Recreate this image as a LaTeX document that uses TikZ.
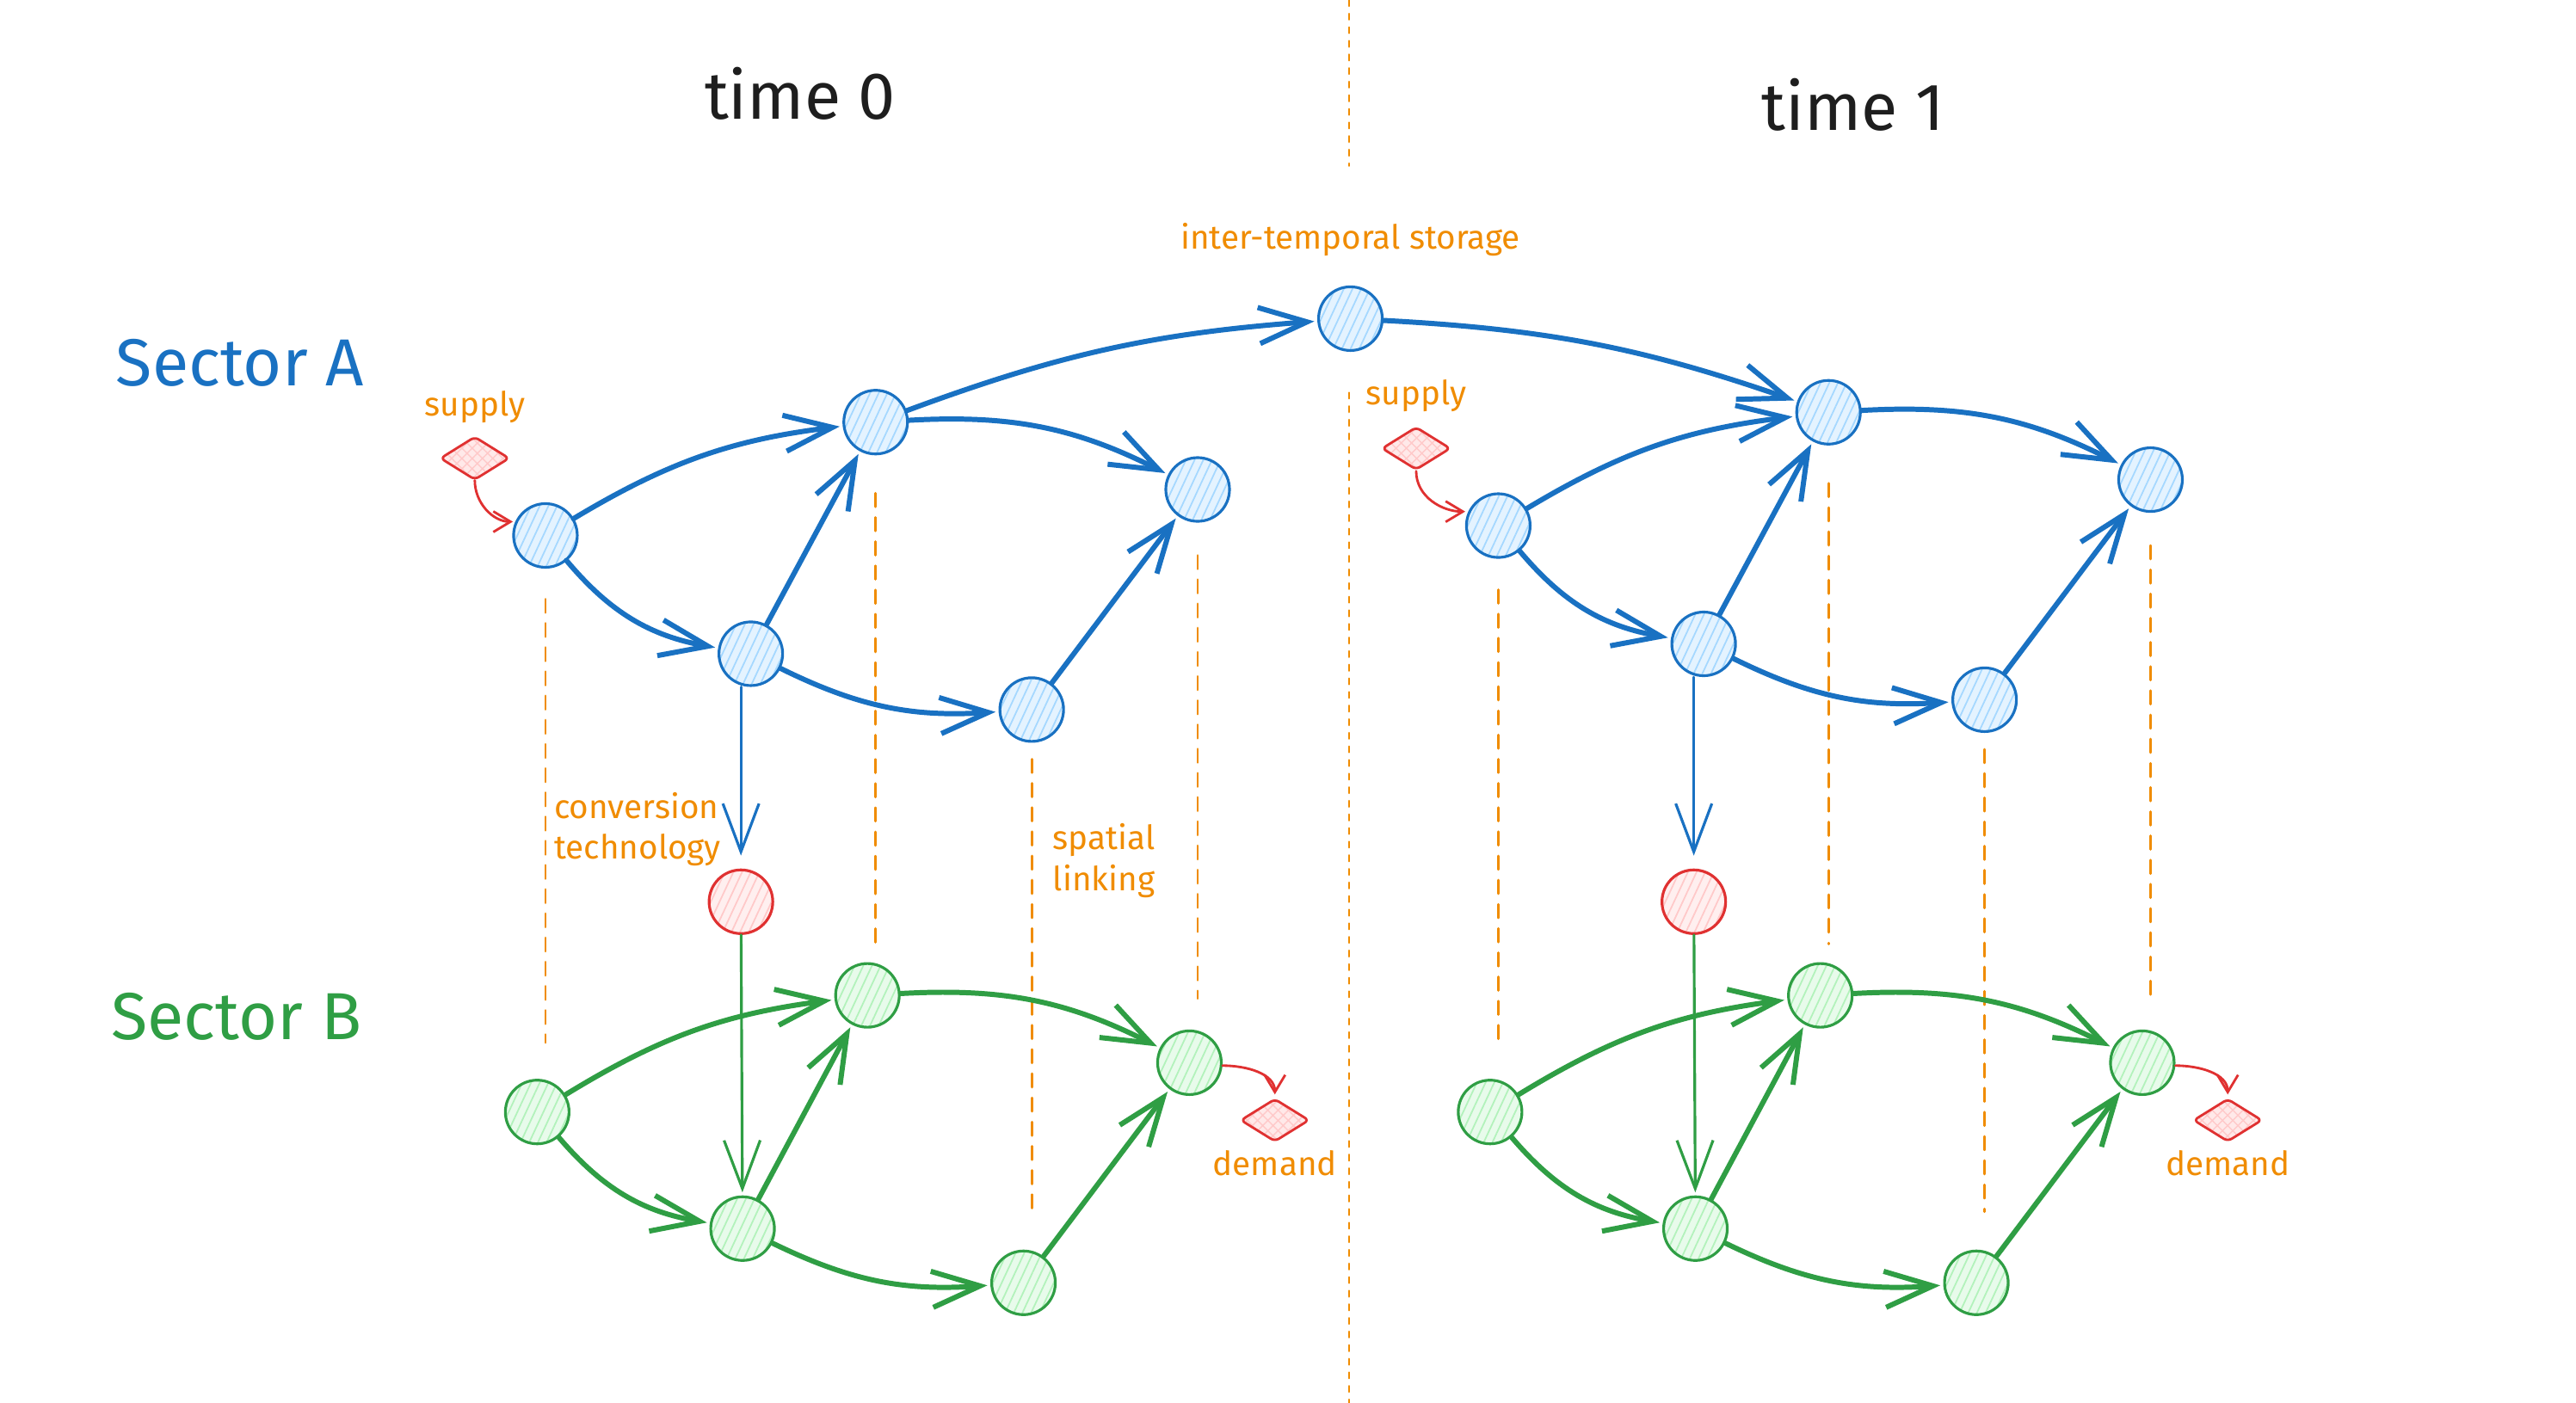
\documentclass[tikz,border=0pt]{standalone}
\usepackage{fontspec}
\setmainfont{Fira Sans}
\usetikzlibrary{arrows.meta,positioning,patterns.meta,shapes.geometric}
\definecolor{exBlue}{HTML}{1971C2}
\definecolor{exGreen}{HTML}{2F9E44}
\definecolor{exRed}{HTML}{E03131}
\definecolor{exOrange}{HTML}{F08C00}
\definecolor{exInk}{HTML}{1E1E1E}
\definecolor{blueHatch}{HTML}{A5D8FF}
\definecolor{greenHatch}{HTML}{B2F2BB}
\definecolor{redHatch}{HTML}{FFC9C9}

\begin{document}
\begin{tikzpicture}[x=0.1909mm,y=-0.1909mm,>={Straight Barb[length=5.6mm,width=4.2mm]},line cap=round,line join=round,
  hub/.style={circle,minimum size=7.4mm,inner sep=0pt,line width=0.9pt},
  nodeA/.style={hub,draw=exBlue,preaction={fill=blueHatch!30},pattern={Lines[angle=65,distance=2.6pt,line width=0.5pt]},pattern color=blueHatch},
  nodeB/.style={hub,draw=exGreen,preaction={fill=greenHatch!30},pattern={Lines[angle=65,distance=2.6pt,line width=0.5pt]},pattern color=greenHatch},
  convnode/.style={hub,draw=exRed,preaction={fill=redHatch!30},pattern={Lines[angle=65,distance=2.6pt,line width=0.5pt]},pattern color=redHatch},
  flag/.style={diamond,minimum width=8mm,minimum height=5mm,inner sep=0pt,rounded corners=1.5pt,draw=exRed,line width=0.8pt,preaction={fill=redHatch!40},pattern={Hatch[angle=45,distance=2.4pt,line width=0.4pt]},pattern color=redHatch},
  flowA/.style={->,exBlue,line width=1.7pt,shorten >=1pt},
  flowB/.style={->,exGreen,line width=1.7pt,shorten >=1pt},
  convA/.style={->,exBlue,line width=0.9pt,shorten >=1.5mm},
  convB/.style={->,exGreen,line width=0.9pt,shorten >=1pt},
  feed/.style={-{Straight Barb[length=2mm,width=2.4mm]},exRed,line width=0.8pt,shorten >=1pt},
  guide/.style={exOrange,line width=0.8pt,dash pattern=on 4.5pt off 3.5pt},
  divider/.style={exOrange,line width=0.6pt,dash pattern=on 2pt off 2.5pt},
  note/.style={text=exOrange,font=\fontsize{11}{13.5}\selectfont,inner sep=0pt},
  heading/.style={font=\fontsize{22}{26}\selectfont,inner sep=0pt}]

  \fill[white] (0,0) rectangle (1568,854);
  \useasboundingbox (0,0) rectangle (1568,854);

  % titles
  \node[heading,text=exInk] (t0) at (487,57) {time 0};
  \node[heading,text=exInk] (t1) at (1128,64) {time 1};
  \node[heading,text=exBlue] (secA) at (146,221) {Sector A};
  \node[heading,text=exGreen] (secB) at (144,619) {Sector B};

  \draw[divider] (821,0) -- (821,101);
  \draw[divider] (821,239) -- (821,854);

  \foreach \t/\dx/\dy/\sx in {0/0/0/0,1/580/6/-7}{
    % sector A network
    \node[nodeA] (a1-\t) at (332+\dx,326-\dy) {};
    \node[nodeA] (a2-\t) at (533+\dx,257-\dy) {};
    \node[nodeA] (a3-\t) at (457+\dx,398-\dy) {};
    \node[nodeA] (a4-\t) at (729+\dx,298-\dy) {};
    \node[nodeA] (a5-\t) at (628+\dx,432-\dy) {};
    \node[convnode] (c-\t) at (451+\dx,549) {};
    % sector B network
    \node[nodeB] (b1-\t) at (327+\dx,677) {};
    \node[nodeB] (b2-\t) at (528+\dx,606) {};
    \node[nodeB] (b3-\t) at (452+\dx,748) {};
    \node[nodeB] (b4-\t) at (724+\dx,647) {};
    \node[nodeB] (b5-\t) at (623+\dx,781) {};
    \node[flag] (sup-\t) at (289+\dx+\sx,279-\dy) {};
    \node[note,above=1.5mm of sup-\t] (supl-\t) {supply};
    \node[flag] (dem-\t) at (776+\dx,682) {};
    \node[note,below=0.8mm of dem-\t] (deml-\t) {demand};

    \foreach \k/\ga/\gb in {1/3.6/4.2,2/4.4/2.1,5/1.9/4.4,4/3.8/3.6}
      \draw[guide,shorten <=\ga mm,shorten >=\gb mm] (a\k-\t.south) -- (a\k-\t |- b\k-\t.north);

    \draw[flowA] (a1-\t) to[bend left=12] (a2-\t);
    \draw[flowA] (a1-\t) to[bend right=20] (a3-\t);
    \draw[flowA] (a3-\t) -- (a2-\t);
    \draw[flowA] (a2-\t) to[bend left=15] (a4-\t);
    \draw[flowA] (a3-\t) to[bend right=15] (a5-\t);
    \draw[flowA] (a5-\t) -- (a4-\t);

    \draw[flowB] (b1-\t) to[bend left=12] (b2-\t);
    \draw[flowB] (b1-\t) to[bend right=20] (b3-\t);
    \draw[flowB] (b3-\t) -- (b2-\t);
    \draw[flowB] (b2-\t) to[bend left=15] (b4-\t);
    \draw[flowB] (b3-\t) to[bend right=15] (b5-\t);
    \draw[flowB] (b5-\t) -- (b4-\t);

    \draw[convA] (c-\t |- a3-\t.south) -- (c-\t);
    \draw[convB] (c-\t) -- (b3-\t);
    \draw[feed] (sup-\t.south) to[out=-90,in=180] (a1-\t.155);
    \draw[feed] (b4-\t.-5) to[out=0,in=90] (dem-\t.north);
  }

  % storage between the two times
  \node[nodeA] (st) at (822,194) {};
  \node[note,above=3.3mm of st] (stl) {inter-temporal storage};
  \draw[flowA] (a2-0) to[bend left=8] (st);
  \draw[flowA] (st) to[bend left=8] (a2-1);

  \node[note,anchor=west,align=left] (convl) at (337,505) {conversion\\technology};
  \node[note,align=center] (linkl) at (672,524) {spatial\\linking};
\end{tikzpicture}
\end{document}
